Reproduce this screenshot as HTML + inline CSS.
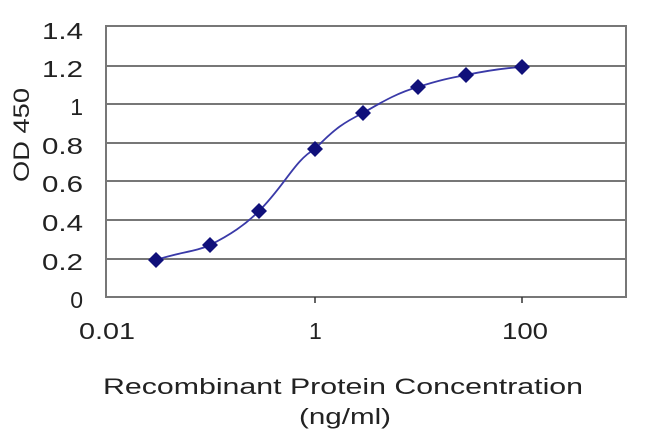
<!DOCTYPE html>
<html><head><style>body{margin:0;background:#fff;}</style></head><body>
<svg width="650" height="433" xmlns="http://www.w3.org/2000/svg" font-family="Liberation Sans, Arial, sans-serif">
<rect width="650" height="433" fill="#fff"/>
<g stroke="#777" stroke-width="2">
<line x1="106" y1="66" x2="626" y2="66"/>
<line x1="106" y1="104" x2="626" y2="104"/>
<line x1="106" y1="143" x2="626" y2="143"/>
<line x1="106" y1="181" x2="626" y2="181"/>
<line x1="106" y1="220" x2="626" y2="220"/>
<line x1="106" y1="259" x2="626" y2="259"/>
</g>
<rect x="106" y="26" width="520" height="271" fill="none" stroke="#777" stroke-width="2"/>
<g stroke="#333" stroke-width="1.5">
<line x1="315" y1="297" x2="315" y2="303"/>
<line x1="522" y1="297" x2="522" y2="303"/>
</g>
<g font-size="23" fill="#222" text-anchor="end">
<text x="83" y="39" textLength="41" lengthAdjust="spacingAndGlyphs">1.4</text>
<text x="83" y="77" textLength="41" lengthAdjust="spacingAndGlyphs">1.2</text>
<text x="83" y="115">1</text>
<text x="83" y="154" textLength="41" lengthAdjust="spacingAndGlyphs">0.8</text>
<text x="83" y="192" textLength="41" lengthAdjust="spacingAndGlyphs">0.6</text>
<text x="83" y="231" textLength="41" lengthAdjust="spacingAndGlyphs">0.4</text>
<text x="83" y="270" textLength="41" lengthAdjust="spacingAndGlyphs">0.2</text>
<text x="83" y="308">0</text>
</g>
<g font-size="23" fill="#222">
<text x="79" y="339" textLength="56" lengthAdjust="spacingAndGlyphs">0.01</text>
<text x="309" y="339">1</text>
<text x="502" y="339" textLength="46" lengthAdjust="spacingAndGlyphs">100</text>
<text x="103" y="394" font-size="22" textLength="480" lengthAdjust="spacingAndGlyphs">Recombinant  Protein  Concentration</text>
<text x="299" y="424" font-size="22" textLength="92" lengthAdjust="spacingAndGlyphs">(ng/ml)</text>
</g>
<text font-size="22" fill="#222" text-anchor="middle" textLength="94" lengthAdjust="spacingAndGlyphs" transform="translate(29,135) rotate(-90)">OD 450</text>
<path d="M156,260 C180,252 195,252 210,245 C230,235 245,225 259,211 C285,185 295,160 315,149 C335,128 345,122 363,113 C385,100 400,92 418,87 C440,80 450,78 466,75 C490,70 505,68 522,67" fill="none" stroke="#3a3aa8" stroke-width="1.8"/>
<g fill="#10107a">
<path d="M156,252 l8,8 l-8,8 l-8,-8z"/>
<path d="M210,237 l8,8 l-8,8 l-8,-8z"/>
<path d="M259,203 l8,8 l-8,8 l-8,-8z"/>
<path d="M315,141 l8,8 l-8,8 l-8,-8z"/>
<path d="M363,105 l8,8 l-8,8 l-8,-8z"/>
<path d="M418,79 l8,8 l-8,8 l-8,-8z"/>
<path d="M466,67 l8,8 l-8,8 l-8,-8z"/>
<path d="M522,59 l8,8 l-8,8 l-8,-8z"/>
</g>
</svg>
</body></html>
